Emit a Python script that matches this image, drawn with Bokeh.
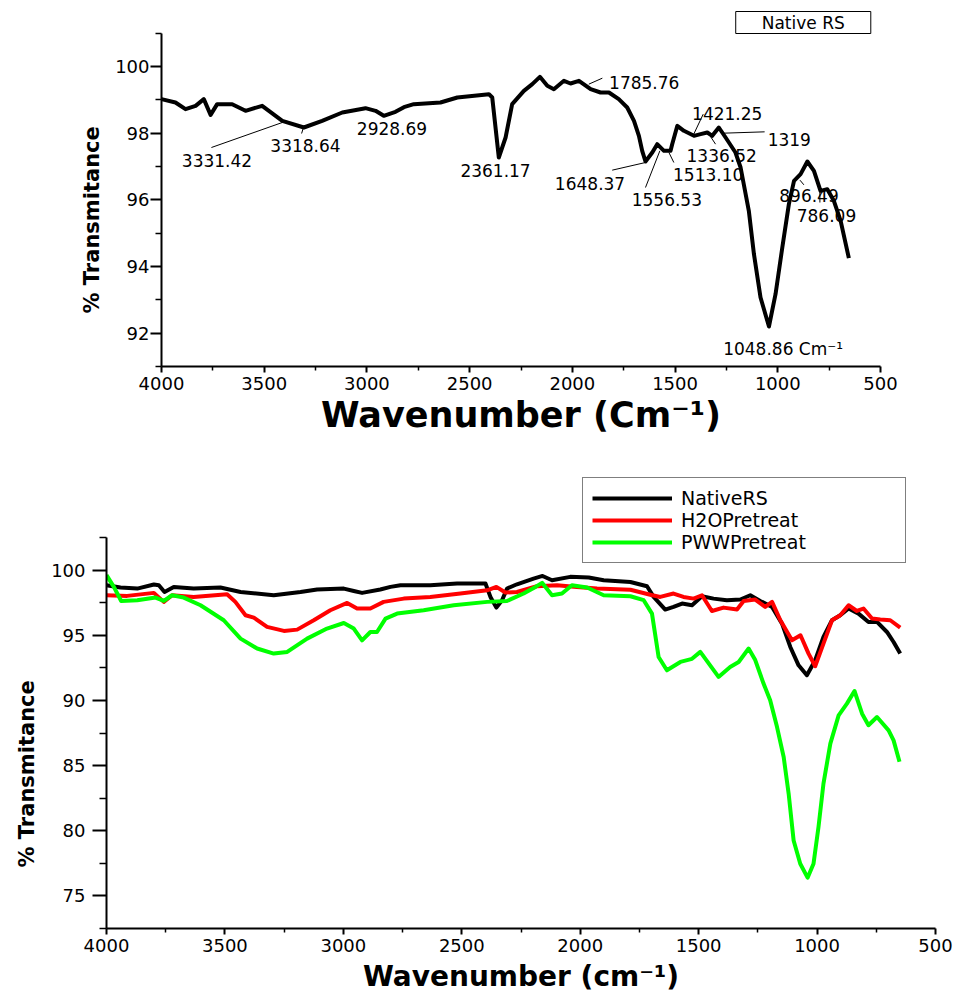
from bokeh.plotting import figure
from bokeh.models import Range1d, FixedTicker, Label, Legend, LegendItem, ColumnDataSource, Title
from bokeh.embed import file_html
from bokeh.resources import INLINE

# ---------------- data: top panel (Native RS) ----------------
top_wn = [4000, 3932, 3883, 3834, 3794, 3761, 3729, 3656, 3591, 3510, 3412, 3307, 3218, 3120,
          3007, 2958, 2918, 2861, 2820, 2772, 2642, 2560, 2406, 2390, 2358, 2325, 2293, 2236,
          2195, 2158, 2122, 2090, 2041, 2009, 1968, 1911, 1863, 1822, 1774, 1733, 1700, 1676,
          1660, 1644, 1611, 1587, 1554, 1522, 1514, 1489, 1457, 1408, 1376, 1343, 1319, 1287,
          1254, 1206, 1181, 1141, 1116, 1084, 1043, 1011, 978, 946, 921, 889, 856, 824, 792,
          759, 727, 694, 654]
top_T = [99.02, 98.92, 98.72, 98.82, 99.02, 98.55, 98.87, 98.87, 98.67, 98.82, 98.37, 98.17,
         98.37, 98.62, 98.75, 98.67, 98.52, 98.64, 98.78, 98.87, 98.92, 99.07, 99.17, 99.07,
         97.27, 97.87, 98.87, 99.27, 99.47, 99.69, 99.42, 99.32, 99.57, 99.49, 99.57, 99.32,
         99.22, 99.22, 99.02, 98.77, 98.37, 97.92, 97.47, 97.15, 97.42, 97.67, 97.47, 97.47,
         97.67, 98.22, 98.07, 97.92, 97.97, 98.02, 97.92, 98.17, 97.87, 97.42, 96.97, 95.67,
         94.37, 93.07, 92.20, 93.17, 94.57, 95.87, 96.57, 96.77, 97.15, 96.87, 96.27, 96.32,
         95.97, 95.37, 94.25]

# peak annotations (label text, label centre wavenumber, label baseline %T)
peak_labels = ["3331.42", "3318.64", "2928.69", "2361.17", "1785.76", "1421.25", "1319",
               "1336.52", "1513.10", "1648.37", "1556.53", "896.49", "786.09", "1048.86 Cm\u207b\u00b9"]
peak_label_x = [3730, 3299, 2878, 2374, 1650, 1246, 944, 1273, 1339, 1914, 1540, 848, 763, 974]
peak_label_y = [97.17, 97.62, 98.15, 96.87, 99.52, 98.59, 97.82, 97.34, 96.77, 96.49, 96.02,
                96.12, 95.52, 91.54]
# leader lines
lead_x0 = [3757, 3318, 1920, 1363, 1262, 1335, 1530, 1806, 1644, 892, 795]
lead_y0 = [97.57, 97.99, 99.47, 98.57, 98.00, 97.97, 97.42, 96.89, 96.37, 96.59, 96.32]
lead_x1 = [3412, 3309, 1854, 1409, 1064, 1303, 1506, 1644, 1574, 873, 795]
lead_y1 = [98.32, 98.17, 99.65, 97.97, 98.04, 97.67, 97.12, 97.12, 97.47, 96.45, 95.92]

# ---------------- data: bottom panel (comparison) ----------------
native_wn = [4000, 3941, 3870, 3800, 3779, 3755, 3716, 3632, 3519, 3434, 3294, 3181, 3111,
             2998, 2956, 2921, 2844, 2801, 2759, 2633, 2520, 2400, 2379, 2354, 2330, 2309,
             2267, 2197, 2159, 2119, 2042, 1964, 1901, 1788, 1718, 1690, 1641, 1606, 1570,
             1528, 1486, 1437, 1381, 1324, 1282, 1240, 1190, 1148, 1113, 1078, 1043, 1008,
             973, 937, 902, 867, 825, 783, 747, 705, 677, 649]
native_T = [98.85, 98.67, 98.59, 98.90, 98.85, 98.33, 98.72, 98.59, 98.67, 98.33, 98.08,
            98.33, 98.52, 98.59, 98.41, 98.26, 98.52, 98.72, 98.85, 98.85, 98.98, 98.98,
            97.95, 97.13, 97.70, 98.59, 98.92, 99.36, 99.56, 99.23, 99.49, 99.44, 99.23,
            99.10, 98.77, 97.95, 96.98, 97.18, 97.44, 97.31, 98.00, 97.82, 97.70, 97.75,
            98.08, 97.64, 97.18, 95.90, 94.11, 92.70, 91.94, 93.09, 94.88, 96.16, 96.54,
            97.06, 96.67, 96.03, 96.03, 95.26, 94.49, 93.60]

h2o_wn = [4000, 3913, 3800, 3758, 3723, 3632, 3491, 3456, 3413, 3378, 3322, 3251, 3195, 3125,
          3055, 2984, 2942, 2886, 2830, 2745, 2633, 2506, 2393, 2354, 2316, 2267, 2183, 2098,
          2014, 1929, 1788, 1700, 1662, 1606, 1564, 1521, 1486, 1444, 1395, 1338, 1310, 1261,
          1219, 1190, 1155, 1106, 1070, 1036, 1008, 973, 937, 902, 867, 832, 804, 768, 733,
          691, 649]
h2o_T = [98.08, 98.03, 98.26, 97.57, 98.08, 97.95, 98.16, 97.57, 96.54, 96.36, 95.65, 95.34,
         95.44, 96.16, 96.93, 97.49, 97.06, 97.06, 97.57, 97.82, 97.95, 98.21, 98.46, 98.72,
         98.29, 98.33, 98.77, 98.85, 98.72, 98.59, 98.50, 98.10, 97.95, 98.21, 97.95, 97.82,
         98.08, 96.87, 97.13, 96.98, 97.64, 97.75, 97.18, 97.57, 96.16, 94.62, 95.01, 93.60,
         92.63, 94.37, 96.16, 96.54, 97.31, 96.87, 97.06, 96.29, 96.21, 96.16, 95.60]

pww_wn = [4000, 3969, 3938, 3870, 3793, 3758, 3723, 3674, 3603, 3505, 3434, 3364, 3294, 3237,
          3153, 3069, 2998, 2956, 2921, 2886, 2858, 2822, 2773, 2661, 2534, 2393, 2309, 2239,
          2189, 2161, 2119, 2077, 2035, 1971, 1901, 1788, 1732, 1697, 1669, 1634, 1577, 1528,
          1493, 1416, 1367, 1331, 1289, 1261, 1226, 1198, 1169, 1141, 1120, 1099, 1071, 1040,
          1015, 994, 973, 944, 909, 874, 842, 810, 783, 747, 698, 677, 652]
pww_T = [99.62, 98.72, 97.64, 97.70, 97.90, 97.64, 98.08, 97.90, 97.31, 96.16, 94.75, 93.99,
         93.60, 93.73, 94.75, 95.52, 95.95, 95.52, 94.62, 95.26, 95.26, 96.29, 96.67, 96.93,
         97.31, 97.57, 97.64, 98.21, 98.72, 99.03, 98.08, 98.21, 98.85, 98.67, 98.08, 98.00,
         97.70, 96.67, 93.34, 92.32, 92.96, 93.20, 93.73, 91.81, 92.57, 92.96, 93.99, 93.10,
         91.30, 90.02, 87.96, 85.66, 82.85, 79.26, 77.47, 76.40, 77.47, 80.29, 83.62, 86.69,
         88.86, 89.76, 90.73, 88.99, 88.10, 88.73, 87.71, 86.94, 85.30]

x_major = [4000, 3500, 3000, 2500, 2000, 1500, 1000, 500]
x_minor = [3750, 3250, 2750, 2250, 1750, 1250, 750]
top_y_major = [92, 94, 96, 98, 100]
top_y_minor = [91, 93, 95, 97, 99, 101]
bot_y_major = [75, 80, 85, 90, 95, 100]
bot_y_minor = [72.5, 77.5, 82.5, 87.5, 92.5, 97.5, 102.5]

FONT = "DejaVu Sans"


def style_axes(p, ytick_out, yminor_out, ystand, xlab_stand, xlab_size, ybounds):
    for ax in (p.xaxis[0], p.yaxis[0]):
        ax.axis_line_width = 2
        ax.axis_line_color = "black"
        ax.major_tick_line_width = 2
        ax.minor_tick_line_width = 1.5
        ax.major_tick_in = 0
        ax.minor_tick_in = 0
        ax.major_label_text_font = FONT
        ax.major_label_text_font_size = "18px"
        ax.major_label_text_color = "black"
        ax.axis_label_text_font = FONT
        ax.axis_label_text_font_style = "bold"
        ax.axis_label_text_color = "black"
    xa, ya = p.xaxis[0], p.yaxis[0]
    xa.major_tick_out = 6
    xa.minor_tick_out = 4
    xa.major_label_standoff = 4
    xa.axis_label_standoff = xlab_stand
    xa.axis_label_text_font_size = xlab_size
    ya.major_tick_out = ytick_out
    ya.minor_tick_out = yminor_out
    ya.major_label_standoff = ystand
    ya.bounds = ybounds
    p.grid.visible = False
    p.outline_line_color = None


def y_title(offset, standoff):
    return Title(text="% Transmitance", align="left", offset=offset, standoff=standoff,
                 vertical_align="bottom", text_font=FONT, text_font_style="bold",
                 text_font_size="21px", text_color="black")


# ---------------- top figure ----------------
p1 = figure(width=958, height=450, x_range=Range1d(4000, 500), y_range=Range1d(91, 101.74),
            output_backend="svg", toolbar_location=None,
            min_border_left=161, min_border_right=78, min_border_top=8, min_border_bottom=84,
            x_axis_label="Wavenumber (Cm\u207b\u00b9)")
p1.xaxis.ticker = FixedTicker(ticks=x_major, minor_ticks=x_minor)
p1.yaxis.ticker = FixedTicker(ticks=top_y_major, minor_ticks=top_y_minor)
style_axes(p1, 11, 6, 1, 2, "35px", (91, 101))
p1.add_layout(y_title(53, 17), "left")

p1.line(top_wn, top_T, line_color="black", line_width=4, line_join="round")
p1.segment(x0=lead_x0, y0=lead_y0, x1=lead_x1, y1=lead_y1, line_color="black", line_width=1)
ann = ColumnDataSource(dict(x=peak_label_x, y=peak_label_y, t=peak_labels))
p1.text(x="x", y="y", text="t", source=ann, text_align="center", text_baseline="alphabetic",
        text_font_size="17px", text_font={"value": FONT}, text_color="black")

p1.add_layout(Label(x=876, y=101.32, text="Native RS", text_align="center",
                    text_baseline="middle", text_font=FONT, text_font_size="17px",
                    text_color="black",
                    border_line_color="black", border_line_width=1,
                    background_fill_color="white",
                    padding=dict(left=26, right=26, top=1, bottom=1)))

# ---------------- bottom figure ----------------
p2 = figure(width=958, height=547, x_range=Range1d(4000, 500), y_range=Range1d(72.5, 107.27),
            output_backend="svg", toolbar_location=None,
            min_border_left=106, min_border_right=23, min_border_top=25, min_border_bottom=69,
            x_axis_label="Wavenumber (cm\u207b\u00b9)")
p2.xaxis.ticker = FixedTicker(ticks=x_major, minor_ticks=x_minor)
p2.yaxis.ticker = FixedTicker(ticks=bot_y_major, minor_ticks=bot_y_minor)
style_axes(p2, 14, 7, 7, 5, "28px", (72.5, 102.5))
p2.add_layout(y_title(61, 20), "left")

r_nat = p2.line(native_wn, native_T, line_color="black", line_width=4, line_join="round")
r_h2o = p2.line(h2o_wn, h2o_T, line_color="red", line_width=4, line_join="round")
r_pww = p2.line(pww_wn, pww_T, line_color="#00ff00", line_width=4, line_join="round")

legend = Legend(items=[LegendItem(label="NativeRS", renderers=[r_nat]),
                       LegendItem(label="H2OPretreat", renderers=[r_h2o]),
                       LegendItem(label="PWWPretreat", renderers=[r_pww])],
                location=(476, 365), padding=9, spacing=0, margin=0,
                glyph_width=80, glyph_height=20, label_height=20, label_width=215,
                label_standoff=9, label_text_font=FONT, label_text_font_size="19px",
                label_text_color="black",
                border_line_color="black", border_line_width=1.5,
                background_fill_color="white", background_fill_alpha=1)
p2.add_layout(legend)

open("out.html", "w").write(file_html([p1, p2], INLINE))
